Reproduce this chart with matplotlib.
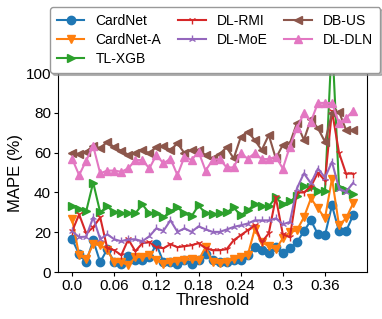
import numpy as np
import matplotlib
matplotlib.use("Agg")
import matplotlib.pyplot as plt

plt.rcParams['font.family'] = ['Liberation Sans', 'DejaVu Sans']

# thresholds 0.00 .. 0.40
threshold = np.round(np.arange(41) * 0.01, 2)

cardnet = [16.5, 9, 5, 16, 5, 11.5, 5, 4, 8, 6, 6, 7.5, 14, 5, 5, 4, 6, 4, 6, 9,
           6, 5, 5, 6, 6, 8.5, 12.5, 11, 9.5, 12.5, 9.5, 12, 15, 20.5, 26, 19, 18.5,
           33.5, 20.5, 20.5, 28.5]
cardnet_a = [26.5, 8.5, 6.5, 14, 13.5, 11, 5, 5, 3.5, 7.5, 7.5, 8.5, 6, 4, 5, 5.5,
             6, 6.5, 6, 12.5, 5, 4.5, 5, 6.5, 7.5, 8.5, 21.5, 15, 13, 11.5, 17, 20,
             21, 27.5, 37, 32, 27, 47, 23.5, 27, 34.5]
tl_xgb = [33, 31.5, 30.5, 45, 30, 33, 30, 29.5, 29.5, 29.5, 34, 29.5, 29.5, 27.5,
          30.5, 32.5, 29.5, 28, 33.5, 29.5, 29, 29.5, 30, 32.5, 28.5, 31, 34, 33,
          33, 37.5, 34, 35.5, 38, 43.5, 43, 40.5, 40.5, 118, 43, 41, 39]
dl_rmi = [20.5, 29, 19.5, 22.5, 27.5, 12, 11, 8.5, 16.5, 10.5, 14.5, 15, 12.5, 12,
          14, 12.5, 13, 13.5, 14.5, 12, 11, 11, 11.5, 16, 18.5, 21, 23.5, 15, 19.5,
          37.5, 19, 17.5, 40, 40, 43, 50, 46, 81, 60, 49.5, 49.5]
dl_moe = [20.5, 17.6, 17.8, 27.5, 16.5, 19, 16.5, 15.5, 16.5, 16.5, 15.5, 18, 22,
          20.7, 26, 20.2, 22, 20.2, 23, 21.5, 20.2, 20.2, 21.4, 22.7, 23.5, 24.4,
          26, 26, 26, 27, 24, 25.2, 42, 49.6, 44.6, 52, 47.5, 55.4, 42, 40.3, 44.8]
db_us = [60, 59.3, 60.5, 63.4, 62.2, 65.5, 62.7, 61, 59, 59.7, 61.3, 59.7, 63, 63.4,
         61.3, 64.7, 59.7, 61.3, 61.3, 58.8, 57.1, 59.3, 62.7, 57.1, 67.7, 70.6,
         66.4, 61.3, 68.9, 57.1, 63.9, 64.7, 74.8, 66.4, 76.8, 72.3, 65.5, 79.8,
         80.6, 71.4, 71.4]
dl_dln = [57, 48.7, 56, 63.4, 49.6, 51, 51, 50.4, 52.1, 56.3, 56.3, 52.1, 58.8,
          54.6, 57, 48.7, 58, 56.3, 60.5, 51, 56.3, 56.8, 52.6, 52.6, 59.7, 57,
          59.7, 56.8, 56.8, 58, 52, 63, 72.3, 79.8, 75.6, 85, 85, 85, 74.8, 77.3, 81]

series = [
    ("CardNet", cardnet, "tab:blue", "o"),
    ("CardNet-A", cardnet_a, "tab:orange", "v"),
    ("TL-XGB", tl_xgb, "tab:green", ">"),
    ("DL-RMI", dl_rmi, "tab:red", "1"),
    ("DL-MoE", dl_moe, "tab:purple", "2"),
    ("DB-US", db_us, "tab:brown", "<"),
    ("DL-DLN", dl_dln, "tab:pink", "^"),
]

xticks = [0.0, 0.06, 0.12, 0.18, 0.24, 0.3, 0.36]
xticklabels = ["0.0", "0.06", "0.12", "0.18", "0.24", "0.3", "0.36"]

fig = plt.figure(figsize=(3.82, 3.19), dpi=100)
ax = fig.add_axes([0.152, 0.147, 0.809, 0.624])

for name, vals, col, mk in series:
    ax.plot(threshold, vals, color=col, marker=mk, ms=6, lw=1.5, label=name)

ax.set_ylim(0, 100)
ax.set_xticks(xticks)
ax.set_xticklabels(xticklabels)
ax.tick_params(labelsize=11, length=3, pad=2)
ax.set_xlabel("Threshold", fontsize=12, labelpad=0)
ax.set_ylabel("MAPE (%)", fontsize=12, labelpad=2)

leg = fig.legend(loc="upper center", bbox_to_anchor=(0.563, 1.0), ncol=3,
                 fontsize=10, labelspacing=0.35, columnspacing=1.2,
                 borderpad=0.5, handlelength=2.0,
                 shadow={"color": "0.55", "alpha": 0.6, "ox": 2, "oy": -2})
leg.get_frame().set_edgecolor("0.6")

fig.savefig("out.png", dpi=100)
